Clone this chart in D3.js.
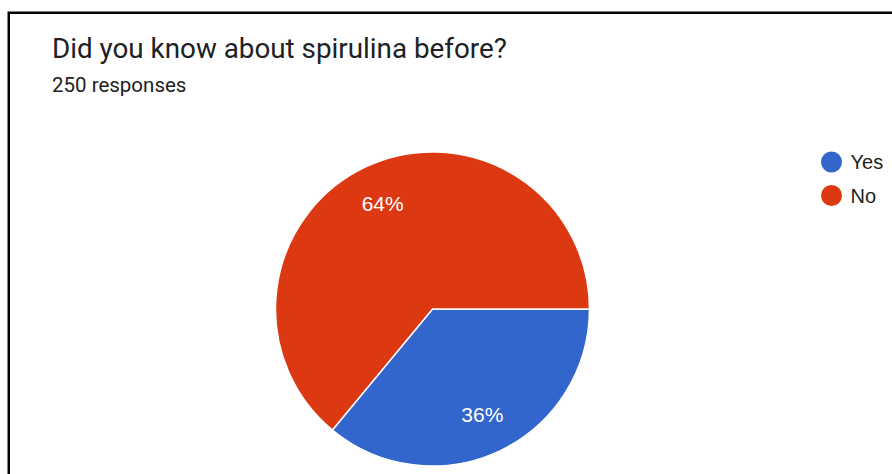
<!DOCTYPE html>
<html>
<head>
<meta charset="utf-8">
<script src="https://cdn.jsdelivr.net/npm/d3@7"></script>
<style>
  html, body { margin: 0; padding: 0; background: #fff; }
  svg { display: block; }
</style>
</head>
<body>
<svg id="chart" width="892" height="474"></svg>
<script>
const titleText = "Did you know about spirulina before?";
const subtitleText = "250 responses";
const categories = ["Yes", "No"];
const counts = [90, 160];
const colors = ["#3366CC", "#DC3912"];

const svg = d3.select("#chart");

// frame
svg.append("rect")
  .attr("x", 8.75).attr("y", 12.75)
  .attr("width", 1000).attr("height", 1000)
  .attr("fill", "none").attr("stroke", "#000").attr("stroke-width", 2.5);

svg.append("text")
  .attr("x", 52).attr("y", 58)
  .attr("font-family", "Roboto").attr("font-size", 27.8)
  .attr("fill", "#202124")
  .text(titleText);

svg.append("text")
  .attr("x", 52).attr("y", 92)
  .attr("font-family", "Roboto").attr("font-size", 20.5)
  .attr("fill", "#202124")
  .text(subtitleText);

const cx = 432.5, cy = 309, r = 157;
const data = categories.map((c, i) => ({ cat: c, value: counts[i], color: colors[i] }));
const total = d3.sum(counts);

const pie = d3.pie().value(d => d.value).sort(null)
  .startAngle(Math.PI / 2).endAngle(Math.PI / 2 + 2 * Math.PI);
const arcs = pie(data);
const arc = d3.arc().innerRadius(0).outerRadius(r);
const labelArc = d3.arc().innerRadius(r * 0.745).outerRadius(r * 0.745);

const g = svg.append("g").attr("transform", `translate(${cx},${cy})`);
g.selectAll("path").data(arcs).join("path")
  .attr("d", arc)
  .attr("fill", d => d.data.color)
  .attr("stroke", "#fff").attr("stroke-width", 1.5);

g.selectAll("text.lbl").data(arcs).join("text")
  .attr("class", "lbl")
  .attr("transform", d => `translate(${labelArc.centroid(d)})`)
  .attr("text-anchor", "middle")
  .attr("dominant-baseline", "central")
  .attr("font-family", "Liberation Sans, Arial, sans-serif")
  .attr("font-size", 21)
  .attr("fill", "#fff")
  .text(d => Math.round(d.data.value / total * 100) + "%");

// legend
const leg = svg.append("g");
const items = leg.selectAll("g").data(data).join("g")
  .attr("transform", (d, i) => `translate(831.5, ${162 + i * 33.5})`);
items.append("circle").attr("r", 10.5).attr("fill", d => d.color);
items.append("text")
  .attr("x", 19).attr("y", 0)
  .attr("dominant-baseline", "central")
  .attr("font-family", "Liberation Sans, Arial, sans-serif")
  .attr("font-size", 20)
  .attr("fill", "#222")
  .text(d => d.cat);
</script>
</body>
</html>
